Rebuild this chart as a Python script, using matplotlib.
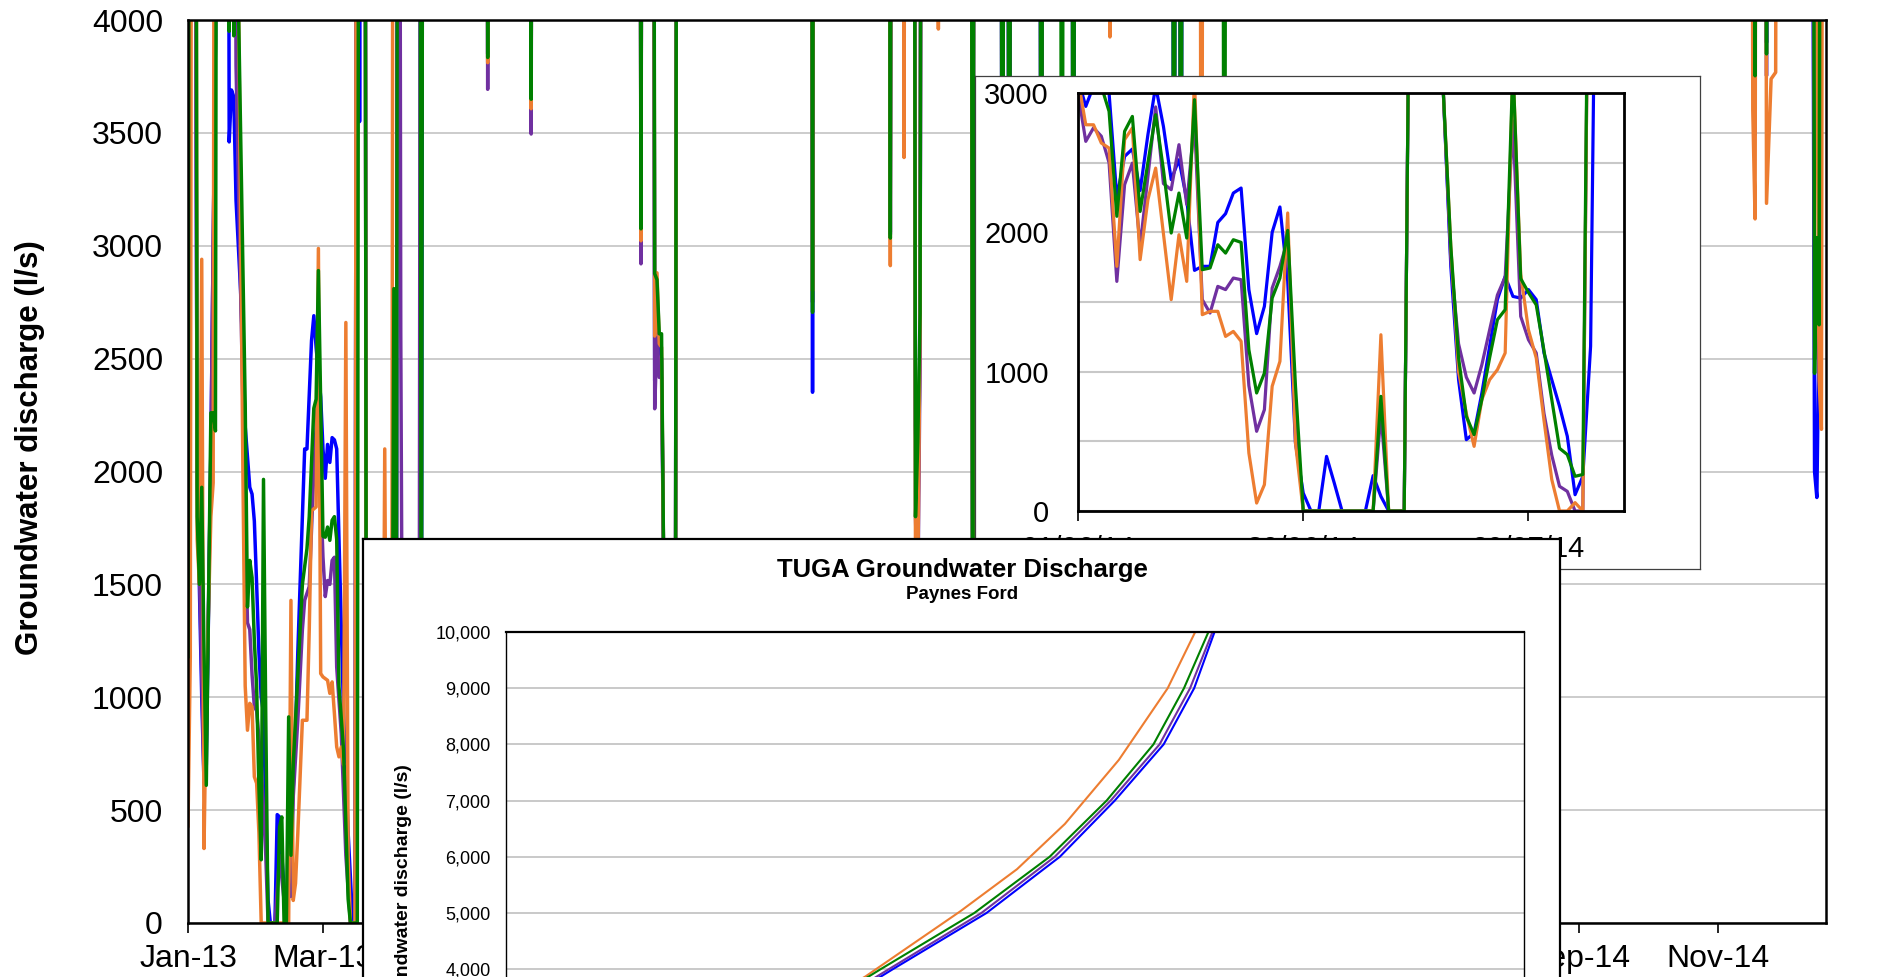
import matplotlib
matplotlib.use("Agg")
import matplotlib.pyplot as plt
import matplotlib.dates as mdates
from matplotlib.ticker import MultipleLocator, FuncFormatter
import numpy as np
from datetime import datetime

plt.rcParams['font.family'] = ['Liberation Sans', 'DejaVu Sans']

W, H, DPI = 1880, 977, 100

BLUE = '#0000FF'
PURPLE = '#7030A0'
ORANGE = '#ED7D31'
GREEN = '#008000'

# ---- daily discharge (l/s), (day since 1 Jan 2013, value); flood flows run off the top
blue_flow = [
    (0, 9000), (2, 9000), (4, 1950), (6, 1000), (7, 620), (8, 700), (10, 2100), (12, 3900), (13, 9000),
    (17, 9000), (18, 3460), (19, 3690), (20, 3660), (21, 3200), (23, 2800), (25, 2200), (27, 1930),
    (28, 1900), (29, 1780), (30, 1500), (31, 1200), (32, 1000), (33, 930), (34, 500), (35, 100), (36, 0),
    (38, 0), (39, 480), (40, 470), (41, 300), (42, 150), (43, 130), (45, 117), (46, 600), (47, 840),
    (48, 1200), (49, 1500), (50, 1800), (51, 2100), (52, 2100), (54, 2580), (55, 2690), (56, 2550),
    (58, 2330), (59, 2100), (60, 1970), (61, 2120), (62, 2040), (63, 2150), (64, 2140), (65, 2100),
    (66, 1700), (68, 930), (70, 400), (72, 0), (73, 0),
    (74, 9000), (75, 3550), (76, 9000), (77, 9000), (78, 300), (91, 300), (92, 9000),
    (101, 9000), (102, 500), (103, 9000),
    (130, 9000), (131, 3850), (132, 9000),
    (149, 9000), (150, 3660), (151, 9000),
    (197, 9000), (198, 3080), (199, 9000),
    (203, 9000), (204, 2403), (205, 2700), (206, 2550), (207, 2500), (208, 1500), (209, 800),
    (210, 500), (213, 500), (214, 9000),
    (272, 9000), (273, 2351), (274, 9000),
    (306, 9000), (307, 3050), (308, 9000),
    (317, 9000), (318, 2200), (319, 1700), (320, 2600), (321, 9000),
    (342, 9000), (343, 1000), (344, 9000),
    (355, 9000), (356, 1000), (357, 9000), (358, 9000), (359, 1000), (360, 9000),
    (372, 9000), (373, 1000), (374, 9000),
    (386, 9000), (387, 1000), (388, 9000),
    (430, 9000), (431, 1000), (432, 9000), (433, 9000), (434, 1000), (435, 9000),
    (684, 9000), (685, 3800), (686, 9000),
    (689, 9000), (690, 3900), (691, 9000),
    (709, 9000), (711, 2000), (712, 1885), (713, 2700), (714, 9000), (716, 9000),
]

purple_flow = [
    (0, 9000), (2, 9000), (4, 2000), (6, 1100), (7, 640), (8, 800), (10, 2100), (12, 3900), (13, 9000),
    (17, 9000), (19, 9000), (21, 3800), (23, 2800), (25, 1800), (26, 1330), (27, 1300), (28, 1100),
    (29, 958), (30, 940), (32, 700), (34, 300), (35, 0), (38, 0), (40, 300), (42, 100), (44, 180),
    (46, 560), (48, 900), (50, 1300), (51, 1430), (53, 1490), (55, 2000), (57, 2400), (58, 1900),
    (59, 1620), (60, 1446), (61, 1517), (62, 1500), (63, 1606), (64, 1620), (65, 1134), (67, 839),
    (69, 300), (71, 0), (73, 0),
    (74, 9000), (77, 9000), (78, 300), (91, 300), (92, 9000), (93, 2610), (94, 300), (101, 300), (102, 9000),
    (130, 9000), (131, 3693), (132, 9000),
    (149, 9000), (150, 3495), (151, 9000),
    (197, 9000), (198, 2920), (199, 9000),
    (203, 9000), (204, 2278), (205, 2600), (206, 2417), (207, 2417), (208, 1500), (209, 800),
    (213, 500), (214, 9000),
    (272, 9000), (273, 2750), (274, 9000),
    (306, 9000), (307, 3060), (308, 9000),
    (317, 9000), (318, 1800), (319, 1400), (320, 2500), (321, 9000),
    (342, 9000), (343, 1000), (344, 9000),
    (355, 9000), (356, 1000), (357, 9000), (358, 9000), (359, 1000), (360, 9000),
    (372, 9000), (373, 1000), (374, 9000),
    (684, 9000), (685, 3492), (686, 9000),
    (689, 9000), (690, 3753), (691, 9000),
    (709, 9000), (711, 2500), (712, 3000), (713, 2700), (714, 9000), (716, 9000),
]

orange_flow = [
    (0, 430), (1, 1180), (2, 9000), (3, 9000), (4, 1700), (5, 1500), (6, 2940), (7, 330), (8, 1000),
    (10, 1800), (11, 1950), (12, 9000),
    (21, 9000), (22, 4200), (24, 2000), (25, 1050), (26, 854), (27, 973), (28, 958), (29, 648),
    (30, 619), (31, 400), (32, 0), (44, 0), (45, 1429), (46, 100), (47, 176), (48, 397), (50, 898),
    (52, 898), (53, 1300), (54, 1826), (56, 1843), (57, 2988), (58, 1105), (59, 1090), (61, 1075),
    (62, 1017), (63, 1068), (64, 928), (65, 780), (66, 736), (67, 780), (68, 700), (69, 2660),
    (70, 300), (71, 0), (73, 0),
    (74, 9000), (77, 9000), (78, 200), (85, 200), (86, 2100), (87, 200), (89, 200), (90, 9000),
    (130, 9000), (131, 3811), (132, 9000),
    (149, 9000), (150, 3607), (151, 9000),
    (197, 9000), (198, 3022), (199, 9000),
    (203, 9000), (204, 2600), (205, 2880), (206, 2566), (207, 2550), (208, 1500), (209, 700),
    (213, 400), (214, 9000),
    (272, 9000), (273, 2800), (274, 9000),
    (306, 9000), (307, 2912), (308, 9000),
    (312, 9000), (313, 3391), (314, 9000),
    (317, 9000), (318, 1600), (319, 1500), (320, 2670), (321, 9000),
    (327, 9000), (328, 3960), (329, 9000),
    (342, 9000), (343, 1000), (344, 9000),
    (402, 9000), (403, 3925), (404, 9000),
    (442, 9000), (443, 1000), (444, 9000),
    (683, 9000), (684, 3600), (685, 3119), (686, 9000),
    (689, 9000), (690, 3188), (692, 3739), (694, 3768), (695, 9000),
    (711, 9000), (712, 3905), (713, 2400), (714, 2187), (715, 9000), (716, 9000),
]

green_flow = [
    (0, 1180), (1, 9000), (3, 9000), (4, 1800), (5, 1500), (6, 1930), (7, 1200), (8, 610), (10, 2260),
    (11, 2260), (12, 2180), (13, 9000),
    (17, 9000), (18, 3950), (19, 9000), (20, 3930), (21, 4700), (22, 4100), (24, 2900), (25, 2300),
    (26, 1400), (27, 1606), (28, 1530), (29, 1250), (30, 1046), (31, 600), (32, 280), (33, 1965),
    (34, 900), (35, 0), (39, 0), (40, 423), (41, 470), (42, 0), (43, 0), (44, 913), (45, 300), (46, 700),
    (48, 1100), (50, 1500), (52, 1658), (53, 1800), (55, 2280), (56, 2320), (57, 2890), (58, 2290),
    (59, 1713), (60, 1709), (61, 1754), (62, 1695), (63, 1784), (64, 1800), (65, 1700), (66, 1046),
    (68, 766), (70, 106), (71, 0), (74, 0),
    (75, 9000), (77, 9000), (78, 300), (89, 300), (90, 2810), (91, 300), (92, 9000),
    (101, 9000), (102, 400), (103, 9000),
    (130, 9000), (131, 3834), (132, 9000),
    (149, 9000), (150, 3649), (151, 9000),
    (197, 9000), (198, 3075), (199, 9000),
    (203, 9000), (204, 2876), (205, 2850), (206, 2610), (207, 2610), (208, 1500), (209, 700),
    (213, 500), (214, 9000),
    (272, 9000), (273, 2705), (274, 9000),
    (306, 9000), (307, 3034), (308, 9000),
    (317, 9000), (318, 1800), (319, 2130), (320, 2700), (321, 9000),
    (342, 9000), (343, 600), (344, 9000),
    (355, 9000), (356, 1000), (357, 9000), (358, 9000), (359, 1000), (360, 9000),
    (372, 9000), (373, 1000), (374, 9000),
    (381, 9000), (382, 1000), (383, 9000),
    (386, 9000), (387, 1000), (388, 9000),
    (430, 9000), (431, 1000), (432, 9000), (433, 9000), (434, 1000), (435, 9000),
    (452, 9000), (453, 1000), (454, 9000),
    (684, 9000), (685, 3753), (686, 9000),
    (689, 9000), (690, 3850), (691, 9000),
    (710, 9000), (711, 2435), (712, 3036), (713, 2650), (714, 9000), (716, 9000),
]

# ---- detail window, one value per day
detail_blue = [3100, 2904, 3050, 3100, 3000, 2250, 2545, 2598, 2300, 2700, 3050, 2760, 2378, 2521, 2234,
               1727, 1756, 1756, 2071, 2134, 2282, 2318, 1589, 1273, 1469, 2000, 2182, 1650, 488, 129,
               0, 0, 392, 200, 0, 0, 0, 0, 254, 105, 0, 0, 0, 6000, 6000, 6000, 6000, 3050, 1756, 942,
               512, 560, 847, 1182, 1517, 1684, 1540, 1528, 1589, 1517, 1134, 942, 751, 536, 117, 249,
               1182, 6000, 6000, 6000, 6000]
detail_purple = [3000, 2653, 2750, 2690, 2500, 1648, 2342, 2497, 1900, 2400, 2900, 2350, 2306, 2629, 2200,
                 2800, 1517, 1421, 1612, 1589, 1672, 1660, 900, 572, 727, 1600, 1756, 1947, 700, 0,
                 0, 0, 0, 0, 0, 0, 0, 0, 0, 700, 0, 0, 0, 6000, 6000, 6000, 6000, 3050, 1800, 1200,
                 960, 847, 1050, 1300, 1550, 1680, 2800, 1397, 1229, 1134, 700, 400, 177, 141, 0, 0,
                 6000, 6000, 6000, 6000, 6000]
detail_orange = [3100, 2772, 2772, 2641, 2605, 1756, 2665, 2749, 1804, 2234, 2461, 1990, 1517, 1983, 1648,
                 3100, 1409, 1433, 1433, 1253, 1289, 1218, 416, 57, 189, 895, 1074, 2139, 488, 0,
                 0, 0, 0, 0, 0, 0, 0, 0, 0, 1265, 0, 0, 0, 6000, 6000, 6000, 6000, 3050, 1900, 1000,
                 700, 464, 800, 942, 1014, 1134, 3200, 1700, 1300, 1098, 650, 226, 0, 0, 60, 0,
                 6000, 6000, 6000, 6000, 6000]
detail_green = [3100, 3100, 3100, 3050, 2868, 2115, 2725, 2832, 2150, 2500, 2844, 2450, 1995, 2282, 1959,
                2952, 1732, 1744, 1911, 1851, 1947, 1928, 1158, 847, 990, 1528, 1672, 2014, 900, 0,
                0, 0, 0, 0, 0, 0, 0, 0, 0, 823, 0, 0, 0, 6000, 6000, 6000, 6000, 3050, 1900, 1100,
                679, 548, 800, 1100, 1373, 1445, 3200, 1668, 1568, 1479, 1150, 800, 450, 405, 249, 262,
                6000, 6000, 6000, 6000, 6000]
detail_ticks = [0, 29, 58]
detail_ticklabels = ['01/06/14', '30/06/14', '29/07/14']

# ---- Paynes Ford rating curves: discharge (l/s) against position along the hidden x axis
curve_q = [3000, 4000, 5000, 6000, 7000, 8000, 9000, 10000, 11000]
curve_blue = [29.0, 38.0, 47.2, 54.4, 59.8, 64.6, 67.6, 69.6, 71.3]
curve_purple = [28.6, 37.6, 46.7, 53.9, 59.4, 64.2, 67.2, 69.4, 71.1]
curve_green = [27.8, 36.8, 46.0, 53.4, 59.0, 63.6, 66.6, 69.0, 70.8]
orange_q = [3000, 3870, 5027, 5780, 6585, 7724, 9000, 10000, 11000]
curve_orange = [27.0, 35.3, 44.6, 50.2, 54.9, 60.2, 65.0, 67.7, 70.0]


def box(x0, y0, x1, y1):
    """pixel box (top-left origin) -> figure fraction rect"""
    return [x0 / W, 1 - y1 / H, (x1 - x0) / W, (y1 - y0) / H]


fig = plt.figure(figsize=(W / DPI, H / DPI), dpi=DPI)
fig.patch.set_facecolor('white')

# main daily chart
ax = fig.add_axes(box(188, 20, 1826, 923), zorder=0)
start = mdates.date2num(datetime(2013, 1, 1))
for flow, col in [(blue_flow, BLUE), (purple_flow, PURPLE), (orange_flow, ORANGE), (green_flow, GREEN)]:
    days, vals = zip(*flow)
    ax.plot(start + np.array(days), vals, color=col, lw=2.5)
ax.set_xlim(start, start + 716)
ax.set_ylim(0, 4000)
ax.xaxis.set_major_locator(mdates.MonthLocator(bymonth=[1, 3, 5, 7, 9, 11]))
ax.xaxis.set_major_formatter(mdates.DateFormatter('%b-%y'))
ax.yaxis.set_major_locator(MultipleLocator(500))
ax.grid(axis='y', color='#C8C8C8', lw=1.3)
ax.set_axisbelow(True)
ax.tick_params(axis='y', length=0, pad=18, labelsize=23)
ax.tick_params(axis='x', length=7, width=1.2, pad=8, labelsize=23)
for s in ax.spines.values():
    s.set_linewidth(1.8)
fig.text(30 / W, 1 - 448 / H, 'Groundwater discharge (l/s)', rotation=90, fontsize=22.5,
         fontweight='bold', ha='center', va='center')

# detail window
fr1 = fig.add_axes(box(975, 76, 1700, 569), zorder=1)
fr1.set_xticks([])
fr1.set_yticks([])
for s in fr1.spines.values():
    s.set_linewidth(0.9)
    s.set_color('#404040')

ax1 = fig.add_axes(box(1078, 93, 1624, 511), zorder=2)
idx = np.arange(len(detail_blue))
for vals, col in [(detail_blue, BLUE), (detail_purple, PURPLE), (detail_orange, ORANGE), (detail_green, GREEN)]:
    ax1.plot(idx, vals, color=col, lw=2.3)
ax1.set_xlim(0, 70.3)
ax1.set_ylim(0, 3000)
ax1.set_yticks([0, 1000, 2000, 3000])
ax1.set_yticks([500, 1500, 2500], minor=True)
ax1.grid(axis='y', which='both', color='#C8C8C8', lw=1.5)
ax1.set_axisbelow(True)
ax1.set_xticks(detail_ticks)
ax1.set_xticklabels(detail_ticklabels)
ax1.tick_params(axis='y', which='both', length=0, pad=21, labelsize=21)
ax1.tick_params(axis='x', length=7, width=1.2, pad=10.5, labelsize=21)
for s in ax1.spines.values():
    s.set_linewidth(2.0)

# Paynes Ford panel
fr2 = fig.add_axes(box(363, 539, 1560, 1120), zorder=3)
fr2.set_xticks([])
fr2.set_yticks([])
for s in fr2.spines.values():
    s.set_linewidth(1.6)
    s.set_color('black')
fig.text(962 / W, 1 - 577 / H, 'TUGA Groundwater Discharge', fontsize=18.5, fontweight='bold',
         ha='center', va='baseline', zorder=6)
fig.text(962 / W, 1 - 599 / H, 'Paynes Ford', fontsize=13.5, fontweight='bold',
         ha='center', va='baseline', zorder=6)
fig.text(403 / W, 1 - 894 / H, 'Groundwater discharge (l/s)', rotation=90, fontsize=14,
         fontweight='bold', ha='center', va='center', zorder=6)

ax2 = fig.add_axes(box(506, 632, 1524, 1194), zorder=4)
ax2.plot(curve_orange, orange_q, color=ORANGE, lw=1.5)
ax2.plot(curve_green, curve_q, color=GREEN, lw=1.5)
ax2.plot(curve_purple, curve_q, color=PURPLE, lw=1.5)
ax2.plot(curve_blue, curve_q, color=BLUE, lw=1.5)
ax2.set_xlim(0, 100)
ax2.set_ylim(0, 10000)
ax2.yaxis.set_major_locator(MultipleLocator(1000))
ax2.yaxis.set_major_formatter(FuncFormatter(lambda v, p: f'{int(v):,}'))
ax2.grid(axis='y', color='#C0C0C0', lw=1.2)
ax2.set_axisbelow(True)
ax2.set_xticks([])
ax2.tick_params(axis='y', length=0, pad=11, labelsize=13)
ax2.spines['top'].set_linewidth(1.6)
for side in ('left', 'right', 'bottom'):
    ax2.spines[side].set_linewidth(1.0)

fig.savefig('out.png', dpi=DPI)
